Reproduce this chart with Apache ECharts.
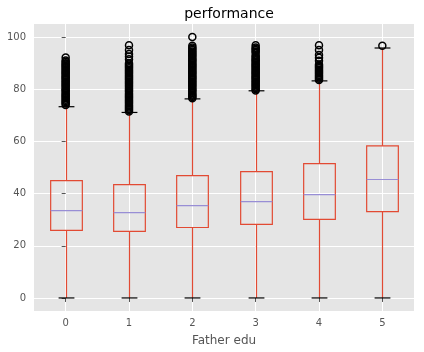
<!DOCTYPE html>
<html>
<head>
<meta charset="utf-8">
<script src="https://cdn.jsdelivr.net/npm/echarts@6/dist/echarts.min.js"></script>
<style>
  html, body { margin: 0; padding: 0; background: #fff; }
  #chart { width: 424px; height: 352px; }
</style>
</head>
<body>
<div id="chart"></div>
<script>
// box stats per category
const categories = ['0', '1', '2', '3', '4', '5'];
const whiskerLow = [0, 0, 0, 0, 0, 0];
const q1 = [25.9, 25.5, 27.0, 28.2, 30.1, 33.1];
const median = [33.5, 32.7, 35.4, 36.9, 39.6, 45.4];
const q3 = [45.0, 43.4, 46.9, 48.4, 51.5, 58.3];
const whiskerHigh = [73.3, 71.1, 76.3, 79.4, 83.2, 95.8];
const yTicks = [0, 20, 40, 60, 80, 100];

// outliers per category
const fliers0 = [74, 74.5, 75, 75.5, 76, 76.5, 77, 77.5, 78, 78.5, 79, 79.5, 80, 80.5, 81, 81.5, 82, 82.5,
  83, 83.5, 84, 84.5, 85, 85.5, 86, 86.5, 87, 87.5, 88, 88.5, 89, 89.5, 90, 90.5, 91, 92.2];
const fliers1 = [71.5, 72, 72.5, 73, 73.5, 74, 74.5, 75, 75.5, 76, 76.5, 77, 77.5, 78, 78.5, 79, 79.5, 80,
  80.5, 81, 81.5, 82, 82.5, 83, 83.5, 84, 84.5, 85, 85.5, 86, 86.5, 87, 87.5, 88, 88.5, 89, 89.5, 90,
  91.5, 92.5, 93.5, 95, 96.9];
const fliers2 = [76.5, 77, 77.5, 78, 78.5, 79, 79.5, 80, 80.5, 81, 81.5, 82, 82.5, 83, 83.5, 84, 84.5, 85,
  85.5, 86, 86.5, 87, 87.5, 88, 88.5, 89, 89.5, 90, 90.5, 91, 91.5, 92, 92.5, 93, 93.5, 94, 94.5, 95,
  95.5, 96, 96.7, 100];
const fliers3 = [79.5, 80, 80.5, 81, 81.5, 82, 82.5, 83, 83.5, 84, 84.5, 85, 85.5, 86, 86.5, 87, 87.5, 88,
  88.5, 89, 89.5, 90, 90.5, 91, 91.5, 92, 92.5, 93, 94, 94.5, 95, 95.5, 96, 96.9];
const fliers4 = [83.5, 84, 84.5, 85, 85.5, 86, 86.5, 87, 87.5, 88, 88.5, 89, 89.5, 90.9, 92.1, 93.1, 95, 96.9];
const fliers5 = [96.7];
const fliers = [fliers0, fliers1, fliers2, fliers3, fliers4, fliers5];

const boxData = categories.map((c, i) => [i, whiskerLow[i], q1[i], median[i], q3[i], whiskerHigh[i]]);
const flierData = [];
fliers.forEach((arr, i) => {
  arr.forEach((v) => flierData.push([i, v]));
});

const font = 'DejaVu Sans';
const chart = echarts.init(document.getElementById('chart'));

const renderBox = (params, api) => {
  const x = api.value(0);
  const band = api.size([1, 0])[0];
  const half = band * 0.25;
  const capHalf = band * 0.125;
  const lo = api.coord([x, api.value(1)]);
  const b1 = api.coord([x, api.value(2)]);
  const md = api.coord([x, api.value(3)]);
  const b3 = api.coord([x, api.value(4)]);
  const hi = api.coord([x, api.value(5)]);
  const cx = Math.round(lo[0]) + 0.5;
  const red = { stroke: '#E24A33', lineWidth: 1.2, fill: null };
  return {
    type: 'group',
    children: [
      { type: 'rect', shape: { x: cx - half, y: b3[1], width: half * 2, height: b1[1] - b3[1] }, style: red },
      { type: 'line', shape: { x1: cx - half, y1: md[1], x2: cx + half, y2: md[1] }, style: { stroke: '#988ED5', lineWidth: 1.2 } },
      { type: 'line', shape: { x1: cx, y1: b1[1], x2: cx, y2: lo[1] }, style: red },
      { type: 'line', shape: { x1: cx, y1: b3[1], x2: cx, y2: hi[1] }, style: red },
      { type: 'line', shape: { x1: cx - capHalf, y1: lo[1], x2: cx + capHalf, y2: lo[1] }, style: { stroke: '#000', lineWidth: 1.2 } },
      { type: 'line', shape: { x1: cx - capHalf, y1: hi[1], x2: cx + capHalf, y2: hi[1] }, style: { stroke: '#000', lineWidth: 1.2 } }
    ]
  };
};

const option = {
  animation: false,
  title: {
    text: 'performance',
    left: 224,
    textAlign: 'center',
    top: 2,
    textStyle: { fontFamily: font, fontSize: 14, fontWeight: 'normal', color: '#000' }
  },
  grid: {
    left: 34,
    right: 10,
    top: 24,
    bottom: 41,
    show: true,
    backgroundColor: '#E5E5E5',
    borderWidth: 0,
    outerBoundsMode: 'none',
    containLabel: false
  },
  xAxis: {
    type: 'value',
    min: -0.5,
    max: 5.5,
    name: 'Father edu',
    nameLocation: 'middle',
    nameGap: 24,
    nameTextStyle: { fontFamily: font, fontSize: 12, color: '#555' },
    axisLine: { show: false },
    axisTick: { show: true, length: 4, lineStyle: { color: '#555' }, customValues: categories.map((c, i) => i) },
    axisLabel: {
      fontFamily: font, fontSize: 10, color: '#555', margin: 7,
      customValues: categories.map((c, i) => i),
      formatter: (v) => categories[v]
    },
    splitLine: { show: true, lineStyle: { color: '#fff', width: 1 } }
  },
  yAxis: {
    type: 'value',
    min: -5,
    max: 105,
    axisLine: { show: false },
    axisTick: { show: true, length: 4, lineStyle: { color: '#555' }, customValues: yTicks },
    axisLabel: { fontFamily: font, fontSize: 10, color: '#555', margin: 8, customValues: yTicks },
    splitLine: { show: true, lineStyle: { color: '#fff', width: 1 } }
  },
  series: [
    {
      type: 'custom',
      data: boxData,
      renderItem: renderBox,
      encode: { x: 0, y: [1, 2, 3, 4, 5] },
      silent: true
    },
    {
      type: 'scatter',
      data: flierData,
      symbol: 'circle',
      symbolSize: 7,
      silent: true,
      itemStyle: { color: 'rgba(0,0,0,0)', borderColor: '#000', borderWidth: 1.5, opacity: 1 }
    }
  ]
};

chart.setOption(option);
window.addEventListener('resize', () => {
  chart.resize();
});
</script>
</body>
</html>
